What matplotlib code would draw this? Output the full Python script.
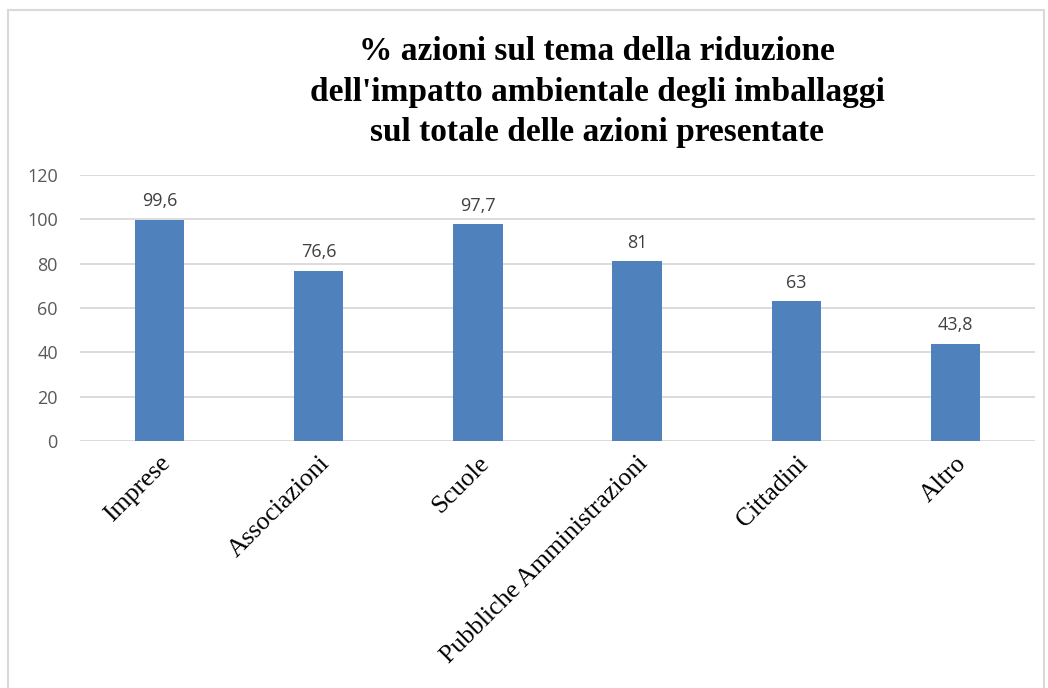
import matplotlib.pyplot as plt
from matplotlib.patches import Rectangle

# Data
categories = ['Imprese', 'Associazioni', 'Scuole', 'Pubbliche Amministrazioni', 'Cittadini', 'Altro']
values = [99.6, 76.6, 97.7, 81, 63, 43.8]
yticks = [0, 20, 40, 60, 80, 100, 120]

W, H = 1048, 688
fig = plt.figure(figsize=(W / 100, H / 100), dpi=100)
ax = fig.add_axes([80 / W, 1 - 441 / H, 955 / W, 266 / H])

x = range(len(categories))
ax.bar(x, values, width=0.31, color='#4F81BD', zorder=3)

# data labels with decimal comma
for i, v in enumerate(values):
    lab = ('%g' % v).replace('.', ',')
    ax.annotate(lab, (i, v), xytext=(0, 7), textcoords='offset points',
                ha='center', va='bottom', fontsize=13, color='#404040',
                family='Open Sans')

ax.set_xlim(-0.5, len(categories) - 0.5)
ax.set_ylim(0, 120)
ax.set_yticks(yticks)
ax.set_yticklabels([str(t) for t in yticks], family='Open Sans', fontsize=13, color='#595959')
ax.yaxis.grid(True, color='#D9D9D9', linewidth=1.3, zorder=0)
ax.tick_params(axis='both', length=0)
ax.tick_params(axis='y', pad=16)
ax.set_xticks(list(x))
ax.set_xticklabels(categories, rotation=45, ha='right', rotation_mode='anchor',
                   family='Liberation Serif', fontsize=18.5, color='#000000')
ax.tick_params(axis='x', pad=8)
for s in ax.spines.values():
    s.set_visible(False)

fig.text(597 / W, 1 - 92 / H,
         "% azioni sul tema della riduzione\ndell'impatto ambientale degli imballaggi\nsul totale delle azioni presentate",
         ha='center', va='center', fontsize=24, fontweight='bold',
         family='Liberation Serif', linespacing=1.38)

# chart area border
fig.patches.append(Rectangle((8 / W, -0.01), 1036 / W, 1 - 10 / H + 0.01,
                             transform=fig.transFigure, fill=False,
                             edgecolor='#D9D9D9', linewidth=1.5))

fig.savefig('out.png', dpi=100)
